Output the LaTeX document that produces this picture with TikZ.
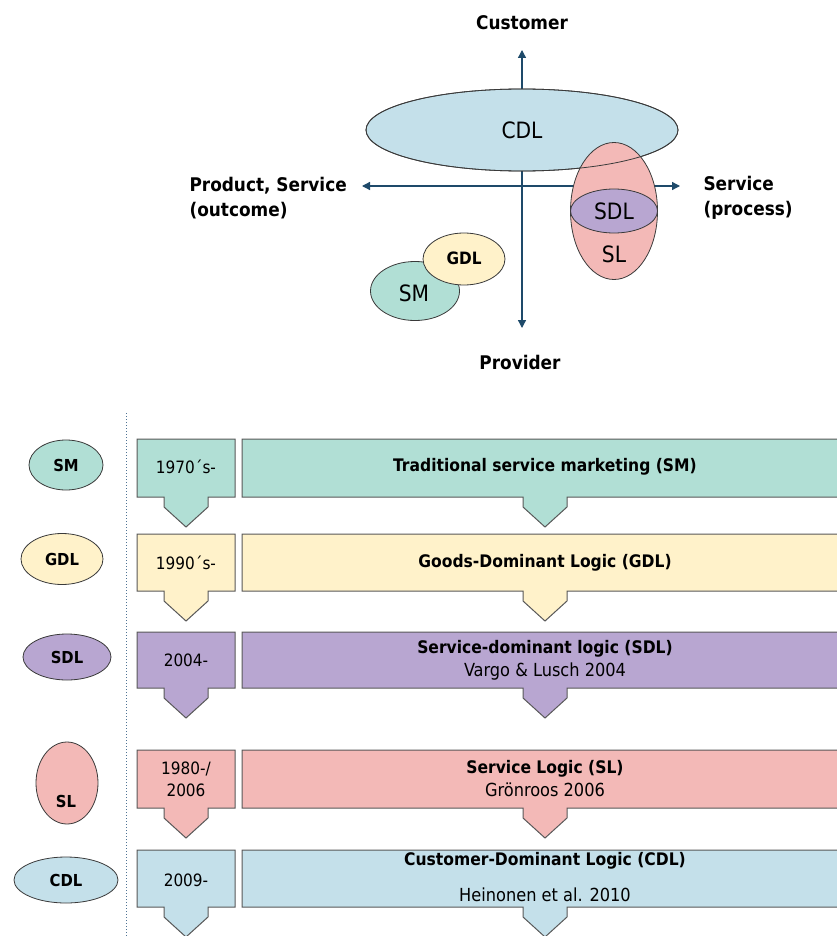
\documentclass[tikz,border=0pt]{standalone}
\usepackage{fontspec}
\setmainfont{DejaVu Sans Condensed}
\usetikzlibrary{shapes.geometric,arrows.meta}

\definecolor{smfill}{HTML}{B1DFD5}
\definecolor{gdlfill}{HTML}{FFF2CA}
\definecolor{sdlfill}{HTML}{B8A6D1}
\definecolor{slfill}{HTML}{F3B9B7}
\definecolor{cdlfill}{HTML}{C4E0EA}
\definecolor{axisblue}{HTML}{1E4A6A}
\definecolor{edgegray}{HTML}{3A3A3A}
\definecolor{dotblue}{HTML}{4F7394}

% banner: rectangle with a downward pointer
% #1 fill, #2 left, #3 right, #4 top, #5 bottom, #6 pointer centre x
\newcommand{\pointerbox}[6]{%
  \draw[boxedge, fill=#1] (#2,#4) -- (#3,#4) -- (#3,#5) -- (#6+22,#5) -- (#6+22,#5+10)
    -- (#6,#5+30) -- (#6-22,#5+10) -- (#6-22,#5) -- (#2,#5) -- cycle;}

\tikzset{
  blob/.style={ellipse, draw=edgegray, line width=0.8pt, inner sep=0pt},
  boxedge/.style={draw=edgegray!85, line width=1pt},
  axisline/.style={draw=axisblue, line width=1.3pt, {Triangle[length=8pt,width=8pt]}-{Triangle[length=8pt,width=8pt]}},
  axislabel/.style={font=\fontsize{18.8}{25}\selectfont\bfseries},
  bigtag/.style={font=\fontsize{22.5}{24}\selectfont},
  gdltag/.style={font=\fontsize{17}{19}\selectfont\bfseries},
  legendtag/.style={font=\fontsize{16.5}{18}\selectfont\bfseries},
  headline/.style={font=\fontsize{17.3}{19}\selectfont\bfseries},
  subline/.style={font=\fontsize{18}{20}\selectfont},
  yeartext/.style={font=\fontsize{17}{22}\selectfont, align=center},
}

\begin{document}
\begin{tikzpicture}[x=1pt, y=-1pt]
\clip (0,0) rectangle (837,936);
\fill[white] (0,0) rectangle (837,936);

% ---------- axes ----------
\coordinate (vtop) at (522,50);
\coordinate (vbot) at (522,328);
\coordinate (hleft) at (362,186);
\coordinate (hright) at (680,186);
\draw[axisline] (vbot) -- (vtop);
\draw[axisline] (hright) -- (hleft);

\node[axislabel] (customer) at (522,23) {Customer};
\node[axislabel] (provider) at (520,362) {Provider};
\node[axislabel, anchor=west, align=left] (outcome) at (186,198) {Product, Service\\(outcome)};
\node[axislabel, anchor=west, align=left] (process) at (700,198) {Service\\(process)};

% ---------- logic ellipses ----------
\node[blob, fill=cdlfill, minimum width=312pt, minimum height=82pt] (cdl) at (522,130) {};
\node[bigtag] (cdltext) at (522,130) {CDL};
\node[blob, fill=slfill, minimum width=87pt, minimum height=137pt] (sl) at (614,211) {};
\draw[edgegray, line width=0.8pt] (cdl.center) ellipse (156 and 41);
\node[blob, fill=sdlfill, minimum width=87pt, minimum height=44pt] (sdl) at (614,211) {};
\node[bigtag] (sdltext) at (614,211) {SDL};
\node[bigtag] (sltext) at (614,254) {SL};

\node[blob, fill=smfill, minimum width=89pt, minimum height=59pt] (sm) at (415,291) {};
\node[bigtag] (smtext) at (414,293) {SM};
\node[blob, fill=gdlfill, minimum width=82pt, minimum height=52pt] (gdl) at (464,259) {};
\node[gdltag] (gdltext) at (464,258) {GDL};

% ---------- timeline divider ----------
\coordinate (divtop) at (126,413);
\coordinate (divbot) at (126,936);
\draw[dotblue, dotted, line width=1pt] (divtop) -- (divbot);

% ---------- legend ellipses ----------
\node[blob, fill=smfill, minimum width=74pt, minimum height=50pt, legendtag] (lsm) at (66,465) {SM};
\node[blob, fill=gdlfill, minimum width=82pt, minimum height=51pt, legendtag] (lgdl) at (62,559) {GDL};
\node[blob, fill=sdlfill, minimum width=88pt, minimum height=46pt, legendtag] (lsdl) at (67,657) {SDL};
\node[blob, fill=slfill, minimum width=62pt, minimum height=82pt] (lsl) at (67,783) {};
\node[legendtag] (lsltext) at (66,801) {SL};
\node[blob, fill=cdlfill, minimum width=104pt, minimum height=46pt, legendtag] (lcdl) at (66,880) {CDL};

% ---------- period banners ----------
\pointerbox{smfill}{137}{235}{439}{497}{186}
\pointerbox{smfill}{242}{850}{439}{497}{545}
\pointerbox{gdlfill}{137}{235}{534}{591}{186}
\pointerbox{gdlfill}{242}{850}{534}{591}{545}
\pointerbox{sdlfill}{137}{235}{632}{688}{186}
\pointerbox{sdlfill}{242}{850}{632}{688}{545}
\pointerbox{slfill}{137}{235}{750}{808}{186}
\pointerbox{slfill}{242}{850}{750}{808}{545}
\pointerbox{cdlfill}{137}{235}{850}{907}{186}
\pointerbox{cdlfill}{242}{850}{850}{907}{545}

\node[yeartext] (y1) at (186,467) {1970´s-};
\node[yeartext] (y2) at (186,563) {1990´s-};
\node[yeartext] (y3) at (186,660) {2004-};
\node[yeartext] (y4) at (186,779) {1980-/\\2006};
\node[yeartext] (y5) at (186,880) {2009-};

\node[headline] (t1) at (545,467) {Traditional service marketing (SM)};
\node[headline] (t2) at (545,563) {Goods-Dominant Logic (GDL)};
\node[headline] (t3) at (545,649) {Service-dominant logic (SDL)};
\node[subline] (s3) at (545,672) {Vargo \& Lusch 2004};
\node[headline] (t4) at (545,769) {Service Logic (SL)};
\node[subline] (s4) at (545,790) {Grönroos 2006};
\node[headline] (t5) at (545,861) {Customer-Dominant Logic (CDL)};
\node[subline] (s5) at (545,895) {Heinonen et al. 2010};
\end{tikzpicture}
\end{document}
